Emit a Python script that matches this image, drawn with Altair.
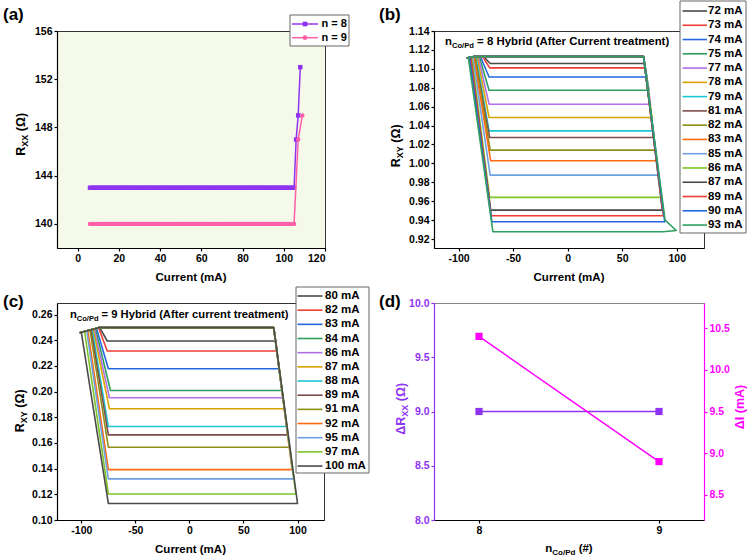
import altair as alt
import pandas as pd

FONT = "Liberation Sans"

# ---------------- (a) R_xx during the current sweep ----------------
a_sweep = list(range(6, 106))          # applied current steps (mA)
a_n8_level = 143.0                     # R_xx plateau for n = 8
a_n9_level = 140.0                     # R_xx plateau for n = 9
a_n8_tail_I = [106, 107, 108]
a_n8_tail_R = [147, 149, 153]
a_n9_tail_I = [107, 109]
a_n9_tail_R = [147, 149]

# ---------------- (b) R_xy loops, n_Co/Pd = 8 ----------------
b_currents = [72, 73, 74, 75, 77, 78, 79, 81, 82, 83, 85, 86, 87, 89, 90, 93]
b_level = [1.1056, 1.1010, 1.0914, 1.0774, 1.0626, 1.0485, 1.0344, 1.0274,
           1.0140, 1.0027, 0.9876, 0.9640, 0.9506, 0.9446, 0.9383, 0.9277]
b_top = 1.1130
b_start = (-92.5, 1.1115)
b_rise_x = -86.0
b_corner_x = 69.6
b_left_top_x = [-77, -78, -80, -81, -82, -83, -84, -85, -85, -86, -87, -88, -89, -89, -90, -91]
b_left_top_R = [1.1130, 1.1130, 1.1130, 1.1130, 1.1130, 1.1130, 1.1130, 1.1130,
                1.1130, 1.1130, 1.1128, 1.1125, 1.1123, 1.1123, 1.1121, 1.1118]
b_left_bottom_x = [-71, -71.5, -72, -72, -72, -72, -72, -71.5, -71, -70.5, -71, -71.5, -70.5, -70, -69.5, -68.5]
b_right_bottom_x = [70.4, 71.0, 72.6, 74.6, 76.0, 77.4, 78.5, 79.3, 80.5, 81.5, 83.5, 85.8, 86.8, 87.8, 89.0, 87.5]
b_tip = [(99.6, 0.9290), (89.3, 0.9400)]   # overshoot of the 93 mA branch

# ---------------- (c) R_xy loops, n_Co/Pd = 9 ----------------
c_currents = [80, 82, 83, 84, 86, 87, 88, 89, 91, 92, 95, 97, 100]
c_level = [0.2394, 0.2316, 0.2178, 0.2009, 0.1952, 0.1866, 0.1728, 0.1663,
           0.1567, 0.1392, 0.1320, 0.1203, 0.1129]
c_top = 0.2498
c_start = (-101.5, 0.2458)
c_rise_x = -84.0
c_corner_x = 78.0
c_left_top_x = [-83, -84, -86, -87, -88, -89, -90, -91, -92, -94, -95, -97, -100]
c_left_top_R = [0.2498, 0.2498, 0.2493, 0.2491, 0.2489, 0.2487, 0.2484, 0.2482,
                0.2480, 0.2475, 0.2473, 0.2468, 0.2461]
c_left_bottom_x = [-76, -76, -75, -73, -74, -74, -75, -75, -75, -75, -75, -75, -75]
c_right_bottom_x = [79.7, 81.2, 83.2, 85.5, 86.5, 88.0, 90.0, 91.0, 92.5, 95.0, 96.5, 98.5, 100.0]

# ---------------- (d) summary ----------------
d_n = [8, 9]
d_dRxx = [9.0, 9.0]
d_dI = [10.4, 8.9]

# ---------------- styles ----------------
PURPLE = "#8f33f2"
PINK = "#ff5fa8"
MAGENTA = "#ff00ff"
PAL = ["#4a4a4a", "#ef3e36", "#2466e0", "#2f9e5f", "#b06fe6", "#d8a300",
       "#1cc6d3", "#7c4c4c", "#8e8e18", "#ff6a10", "#6fa0e0", "#7cc524"]
b_colors = PAL + PAL[:4]
c_colors = PAL + PAL[:1]

ADV = {" ": .278, "(": .333, ")": .333, "#": .556, "/": .278, "=": .584, ".": .278,
       "A": .722, "C": .722, "H": .722, "P": .667, "R": .722, "X": .667, "Y": .667,
       "I": .278, "a": .556, "b": .611, "c": .556, "d": .611, "e": .556, "f": .333,
       "i": .278, "m": .889, "n": .611, "o": .611, "r": .389, "t": .333, "u": .611,
       "y": .556, "\u03a9": .768, "\u0394": .719}
for _d in "0123456789":
    ADV[_d] = .556


def tw(s, size):
    return sum(ADV.get(ch, 0.6) for ch in s) * size


ONE = pd.DataFrame({"k": [0]})


def label(s, x, y, size, color="black", angle=None, align="left", baseline="alphabetic"):
    props = dict(text=s, font=FONT, fontSize=size, fontWeight="bold", color=color,
                 align=align, baseline=baseline)
    if angle is not None:
        props["angle"] = angle
    return alt.Chart(ONE).mark_text(**props).encode(x=alt.value(x), y=alt.value(y))


def rich(pieces, x, y, color="black", vertical=False, center=True):
    """Text made of runs with their own size and baseline shift (subscripts)."""
    total = sum(tw(t, s) for t, s, _ in pieces)
    half = total / 2 if center else 0.0
    out, adv = [], 0.0
    for t, s, shift in pieces:
        body = t.lstrip(" ")
        adv += tw(t[: len(t) - len(body)], s)
        if vertical:
            out.append(label(body, x + shift, y + half - adv, s, color, angle=270))
        else:
            out.append(label(body, x - half + adv, y + shift, s, color))
        adv += tw(body, s)
    return out


def box(x1, y1, x2, y2):
    return alt.Chart(ONE).mark_rect(fill="white", stroke="#666", strokeWidth=1).encode(
        x=alt.value(x1), x2=alt.value(x2), y=alt.value(y1), y2=alt.value(y2))


def seg(x1, x2, y, color, width=1.6):
    return alt.Chart(ONE).mark_rule(color=color, strokeWidth=width).encode(
        x=alt.value(x1), x2=alt.value(x2), y=alt.value(y))


def legend_rows(labels, colors, x_line, line_len, x_text, y0, step, size):
    out = []
    for i, (lab, col) in enumerate(zip(labels, colors)):
        yy = y0 + i * step
        out.append(seg(x_line, x_line + line_len, yy, col))
        out.append(label(lab, x_text, yy, size, baseline="middle"))
    return out


def loop_frame(start, rise_x, corner_x, top, lt_x, lt_r, lb_x, level, rb_x, extra):
    pts = ([start, (lt_x, lt_r), (lb_x, level), (rb_x, level)] + list(extra)
           + [(corner_x, top), (rise_x, top), start])
    return pd.DataFrame({"I": [p[0] for p in pts], "R": [p[1] for p in pts],
                         "k": list(range(len(pts)))})


TICK_LBL = 10.5
TITLE = 11.5
YTITLE = 12.5
SUB = 9

# ================= panel (a) =================
W_A, H = 268, 217
xa = alt.X("I:Q", scale=alt.Scale(domain=[-10, 120], nice=False, zero=False),
           axis=alt.Axis(values=[0, 20, 40, 60, 80, 100, 120], title=None))
ya = alt.Y("R:Q", scale=alt.Scale(domain=[138, 156], nice=False, zero=False),
           axis=alt.Axis(values=[140, 144, 148, 152, 156], title=None))

df_a8 = pd.DataFrame({"I": a_sweep + a_n8_tail_I,
                      "R": [a_n8_level] * len(a_sweep) + a_n8_tail_R})
df_a9 = pd.DataFrame({"I": a_sweep + a_n9_tail_I,
                      "R": [a_n9_level] * len(a_sweep) + a_n9_tail_R})

a_layers = [
    alt.Chart(df_a8).mark_line(color=PURPLE, strokeWidth=1.5).encode(xa, ya),
    alt.Chart(df_a8).mark_point(shape="square", filled=True, size=20, opacity=1,
                                color=PURPLE).encode(xa, ya),
    alt.Chart(df_a9).mark_line(color=PINK, strokeWidth=1.5).encode(xa, ya),
    alt.Chart(df_a9).mark_point(shape="circle", filled=True, size=20, opacity=1,
                                color=PINK).encode(xa, ya),
    box(233, -16, 292, 15),
    seg(235, 261, -7, PURPLE, 1.5),
    alt.Chart(ONE).mark_point(shape="square", filled=True, size=22, opacity=1, color=PURPLE)
       .encode(x=alt.value(248), y=alt.value(-7)),
    label("n = 8", 264.5, -7, 11, baseline="middle"),
    seg(235, 261, 6.7, PINK, 1.5),
    alt.Chart(ONE).mark_point(shape="circle", filled=True, size=22, opacity=1, color=PINK)
       .encode(x=alt.value(248), y=alt.value(6.7)),
    label("n = 9", 264.5, 6.7, 11, baseline="middle"),
    label("(a)", -54, -16.5, 17, baseline="middle"),
]
a_layers += rich([("Current (mA)", TITLE, 0)], W_A / 2, H + 32.5)
a_layers += rich([("R", YTITLE, 0), ("XX", SUB, 3), (" (\u03a9)", YTITLE, 0)], -32, 103.5,
                 vertical=True)
panel_a = alt.layer(*a_layers).properties(
    width=W_A, height=H,
    view=alt.ViewBackground(fill="#f4f9ea", stroke="#333", strokeWidth=1))

# ================= panel (b) =================
W_B = 270
xb = alt.X("I:Q", scale=alt.Scale(domain=[-122.5, 125], nice=False, zero=False),
           axis=alt.Axis(values=[-100, -50, 0, 50, 100], title=None))
yb = alt.Y("R:Q", scale=alt.Scale(domain=[0.9105, 1.14], nice=False, zero=False),
           axis=alt.Axis(values=[0.92, 0.94, 0.96, 0.98, 1.00, 1.02, 1.04, 1.06,
                                 1.08, 1.10, 1.12, 1.14], format=".2f", title=None))
b_layers = []
for i in range(len(b_currents)):
    extra = b_tip if i == len(b_currents) - 1 else []
    df = loop_frame(b_start, b_rise_x, b_corner_x, b_top, b_left_top_x[i], b_left_top_R[i],
                    b_left_bottom_x[i], b_level[i], b_right_bottom_x[i], extra)
    b_layers.append(alt.Chart(df).mark_line(color=b_colors[i], strokeWidth=1.6,
                                            strokeJoin="round")
                    .encode(xb, yb, order="k:Q"))
b_layers.append(box(246, -30, 312, 202))
b_layers += legend_rows([f"{c} mA" for c in b_currents], b_colors, 248.5, 24.5, 274,
                        -20, 14.27, 11.5)
b_layers += rich([("n", 11.4, 0), ("Co/Pd", 7.6, 3),
                  (" = 8 Hybrid (After Current treatment)", 11.4, 0)], 11, 14, center=False)
b_layers += rich([("Current (mA)", TITLE, 0)], W_B / 2, H + 32.5)
b_layers += rich([("R", YTITLE, 0), ("XY", SUB, 3), (" (\u03a9)", YTITLE, 0)], -34.5, 115,
                 vertical=True)
b_layers.append(label("(b)", -55, -16.5, 17, baseline="middle"))
panel_b = alt.layer(*b_layers).properties(
    width=W_B, height=H, view=alt.ViewBackground(stroke="#333", strokeWidth=1))

# ================= panel (c) =================
W_C = 267
xc = alt.X("I:Q", scale=alt.Scale(domain=[-122.5, 124.5], nice=False, zero=False),
           axis=alt.Axis(values=[-100, -50, 0, 50, 100], title=None))
yc = alt.Y("R:Q", scale=alt.Scale(domain=[0.10, 0.269], nice=False, zero=False),
           axis=alt.Axis(values=[0.10, 0.12, 0.14, 0.16, 0.18, 0.20, 0.22, 0.24, 0.26],
                         format=".2f", title=None))
c_layers = []
for i in range(len(c_currents)):
    df = loop_frame(c_start, c_rise_x, c_corner_x, c_top, c_left_top_x[i], c_left_top_R[i],
                    c_left_bottom_x[i], c_level[i], c_right_bottom_x[i], [])
    c_layers.append(alt.Chart(df).mark_line(color=c_colors[i], strokeWidth=1.6,
                                            strokeJoin="round")
                    .encode(xc, yc, order="k:Q"))
c_layers.append(box(239, -16, 312, 170))
c_layers += legend_rows([f"{c} mA" for c in c_currents], c_colors, 240.5, 25, 268,
                        -7, 14.17, 11.5)
c_layers += rich([("n", 11.2, 0), ("Co/Pd", 7.5, 3),
                  (" = 9 Hybrid (After current treatment)", 11.2, 0)], 13, 15.3, center=False)
c_layers += rich([("Current (mA)", TITLE, 0)], W_C / 2, H + 32.5)
c_layers += rich([("R", YTITLE, 0), ("XY", SUB, 3), (" (\u03a9)", YTITLE, 0)], -33.5, 108,
                 vertical=True)
c_layers.append(label("(c)", -54, -1, 17, baseline="middle"))
panel_c = alt.layer(*c_layers).properties(
    width=W_C, height=H, view=alt.ViewBackground(stroke="#333", strokeWidth=1))

# ================= panel (d) =================
W_D = 270
df_d = pd.DataFrame({"n": d_n, "dR": d_dRxx, "dI": d_dI})
xd = alt.X("n:Q", scale=alt.Scale(domain=[7.75, 9.25], nice=False, zero=False),
           axis=alt.Axis(values=[8, 9], format="d", title=None))
yd_left = alt.Y("dR:Q", scale=alt.Scale(domain=[8.0, 10.0], nice=False, zero=False),
                axis=alt.Axis(values=[8.0, 8.5, 9.0, 9.5, 10.0], format=".1f", title=None,
                              domainColor=PURPLE, tickColor=PURPLE, labelColor=PURPLE))
yd_right = alt.Y("dI:Q", scale=alt.Scale(domain=[8.2, 10.8], nice=False, zero=False),
                 axis=alt.Axis(values=[8.5, 9.0, 9.5, 10.0, 10.5], format=".1f", title=None,
                               orient="right", domainColor=MAGENTA, tickColor=MAGENTA,
                               labelColor=MAGENTA))
d_left = alt.layer(
    alt.Chart(df_d).mark_line(color=PURPLE, strokeWidth=1.5).encode(xd, yd_left),
    alt.Chart(df_d).mark_point(shape="square", filled=True, size=52, opacity=1,
                               color=PURPLE).encode(xd, yd_left),
)
d_right = alt.layer(
    alt.Chart(df_d).mark_line(color=MAGENTA, strokeWidth=1.5).encode(xd, yd_right),
    alt.Chart(df_d).mark_point(shape="square", filled=True, size=52, opacity=1,
                               color=MAGENTA).encode(xd, yd_right),
)
d_text = []
d_text += rich([("n", TITLE, 0), ("Co/Pd", 8, 3), (" (#)", TITLE, 0)], W_D / 2, H + 31.5)
d_text += rich([("\u0394R", YTITLE, 0), ("XX", SUB, 3), (" (\u03a9)", YTITLE, 0)], -29, 106,
               color=PURPLE, vertical=True)
d_text += rich([("\u0394I (mA)", YTITLE, 0)], 309.5, 104, color=MAGENTA, vertical=True)
d_text.append(label("(d)", -55, -1, 17, baseline="middle"))
panel_d = alt.layer(d_left, d_right, *d_text).resolve_scale(y="independent").properties(
    width=W_D, height=H, view=alt.ViewBackground(stroke="#888", strokeWidth=1))

# ================= assembly: 2 x 2 grid =================
chart = alt.concat(
    panel_a, panel_b, panel_c, panel_d,
    columns=2, bounds="flush",
    spacing={"row": 55, "column": 433 - 56 - W_A},
).properties(
    padding={"left": 2, "top": 0, "right": 0, "bottom": 0}
).configure(
    locale={"number": {"decimal": ".", "thousands": ",", "grouping": [3],
                       "currency": ["", ""], "minus": "-"}}
).configure_axis(
    labelFont=FONT, labelFontSize=TICK_LBL, labelFontWeight="bold", labelColor="black",
    domainColor="black", tickColor="black", domainWidth=1.2, tickWidth=1.2, tickSize=3,
    labelPadding=2, grid=False,
).configure_view(stroke="#333")

chart.save("out.html", embed_options={"renderer": "svg", "actions": False})
